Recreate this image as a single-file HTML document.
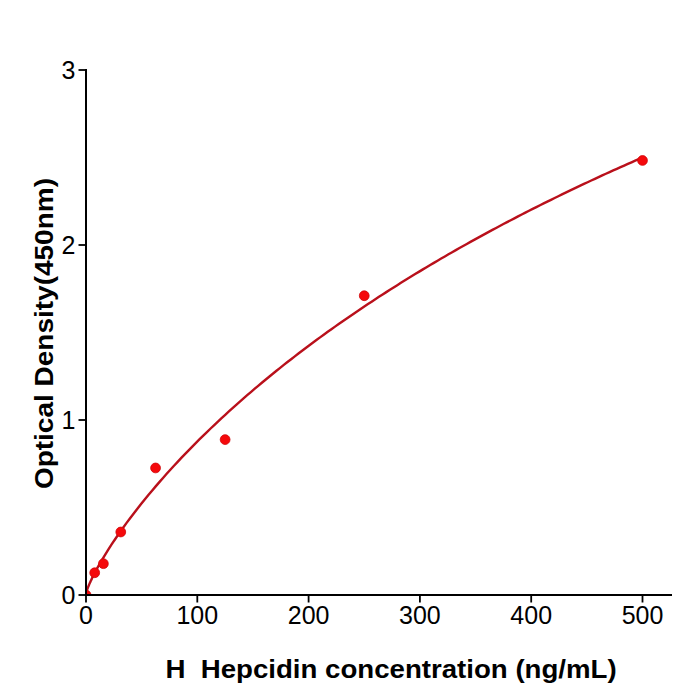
<!DOCTYPE html>
<html><head><meta charset="utf-8"><style>
html,body{margin:0;padding:0;background:#fff;}
svg{display:block;}
text{font-family:"Liberation Sans",sans-serif;}
</style></head><body>
<svg width="700" height="700" viewBox="0 0 700 700">
<rect width="700" height="700" fill="#fff"/>
<defs><clipPath id="ax"><rect x="86" y="0" width="614" height="595"/></clipPath></defs>
<g clip-path="url(#ax)">
<polyline points="86.00,593.54 86.38,591.96 86.77,590.74 87.15,589.63 87.54,588.58 87.92,587.58 88.30,586.62 88.69,585.68 89.07,584.77 89.45,583.88 89.84,583.01 90.22,582.15 90.61,581.31 90.99,580.48 91.37,579.67 91.76,578.86 92.14,578.07 92.52,577.28 92.91,576.50 93.29,575.74 93.68,574.97 94.06,574.22 94.44,573.48 94.83,572.74 95.21,572.00 95.59,571.28 95.98,570.56 96.36,569.84 96.75,569.13 97.13,568.43 100.79,561.93 104.45,555.77 108.11,549.88 111.77,544.21 115.43,538.72 119.09,533.40 122.75,528.22 126.41,523.17 130.07,518.23 133.73,513.41 137.39,508.69 141.05,504.06 144.71,499.51 148.37,495.05 152.03,490.67 155.69,486.35 159.35,482.11 163.01,477.93 166.67,473.82 170.33,469.76 173.99,465.76 177.65,461.82 181.31,457.93 184.97,454.09 188.64,450.30 192.30,446.56 195.96,442.86 199.62,439.20 203.28,435.59 206.94,432.02 210.60,428.50 214.26,425.01 217.92,421.55 221.58,418.14 225.24,414.76 228.90,411.42 232.56,408.11 236.22,404.83 239.88,401.58 243.54,398.37 247.20,395.19 250.86,392.04 254.52,388.92 258.18,385.82 261.84,382.76 265.50,379.72 269.16,376.71 272.82,373.73 276.48,370.77 280.14,367.84 283.80,364.93 287.46,362.05 291.12,359.19 294.78,356.36 298.44,353.55 302.10,350.76 305.76,347.99 309.42,345.25 313.08,342.52 316.74,339.82 320.40,337.14 324.06,334.48 327.72,331.84 331.38,329.22 335.04,326.62 338.70,324.04 342.36,321.48 346.02,318.94 349.68,316.41 353.34,313.90 357.00,311.42 360.66,308.94 364.32,306.49 367.98,304.05 371.65,301.63 375.31,299.23 378.97,296.84 382.63,294.47 386.29,292.12 389.95,289.78 393.61,287.45 397.27,285.14 400.93,282.85 404.59,280.57 408.25,278.31 411.91,276.06 415.57,273.82 419.23,271.60 422.89,269.39 426.55,267.20 430.21,265.02 433.87,262.85 437.53,260.70 441.19,258.56 444.85,256.44 448.51,254.32 452.17,252.22 455.83,250.13 459.49,248.05 463.15,245.99 466.81,243.94 470.47,241.90 474.13,239.87 477.79,237.85 481.45,235.85 485.11,233.86 488.77,231.87 492.43,229.90 496.09,227.94 499.75,225.99 503.41,224.06 507.07,222.13 510.73,220.21 514.39,218.31 518.05,216.41 521.71,214.52 525.37,212.65 529.03,210.78 532.69,208.93 536.35,207.08 540.01,205.25 543.67,203.42 547.33,201.61 550.99,199.80 554.66,198.00 558.32,196.21 561.98,194.43 565.64,192.66 569.30,190.90 572.96,189.15 576.62,187.41 580.28,185.68 583.94,183.95 587.60,182.23 591.26,180.53 594.92,178.83 598.58,177.14 602.24,175.45 605.90,173.78 609.56,172.11 613.22,170.45 616.88,168.80 620.54,167.16 624.20,165.53 627.86,163.90 631.52,162.28 635.18,160.67 638.84,159.07 642.50,157.47" fill="none" stroke="#b9101b" stroke-width="2.4" stroke-linejoin="round"/>
<g fill="#f5090b" stroke="#d0060a" stroke-width="0.8">
<circle cx="86.00" cy="595.00" r="4.9"/>
<circle cx="94.70" cy="572.77" r="4.9"/>
<circle cx="103.39" cy="563.67" r="4.9"/>
<circle cx="120.78" cy="532.00" r="4.9"/>
<circle cx="155.56" cy="467.95" r="4.9"/>
<circle cx="225.12" cy="439.60" r="4.9"/>
<circle cx="364.25" cy="295.75" r="4.9"/>
<circle cx="642.50" cy="160.47" r="4.9"/>
</g>
</g>
<g stroke="#000" stroke-width="2">
<line x1="86" y1="69" x2="86" y2="596"/>
<line x1="85" y1="595" x2="672" y2="595"/>
</g>
<g stroke="#000" stroke-width="1.8">
<line x1="86.00" y1="595" x2="86.00" y2="602.5"/>
<line x1="197.30" y1="595" x2="197.30" y2="602.5"/>
<line x1="308.60" y1="595" x2="308.60" y2="602.5"/>
<line x1="419.90" y1="595" x2="419.90" y2="602.5"/>
<line x1="531.20" y1="595" x2="531.20" y2="602.5"/>
<line x1="642.50" y1="595" x2="642.50" y2="602.5"/>
<line x1="78.5" y1="595.00" x2="86" y2="595.00"/>
<line x1="78.5" y1="420.00" x2="86" y2="420.00"/>
<line x1="78.5" y1="245.00" x2="86" y2="245.00"/>
<line x1="78.5" y1="70.00" x2="86" y2="70.00"/>
</g>
<g font-size="25" fill="#000">
<text x="86.00" y="623.5" text-anchor="middle">0</text>
<text x="197.30" y="623.5" text-anchor="middle">100</text>
<text x="308.60" y="623.5" text-anchor="middle">200</text>
<text x="419.90" y="623.5" text-anchor="middle">300</text>
<text x="531.20" y="623.5" text-anchor="middle">400</text>
<text x="642.50" y="623.5" text-anchor="middle">500</text>
<text x="75.5" y="604.00" text-anchor="end">0</text>
<text x="75.5" y="429.00" text-anchor="end">1</text>
<text x="75.5" y="254.00" text-anchor="end">2</text>
<text x="75.5" y="79.00" text-anchor="end">3</text>
</g>
<text x="165.4" y="677.5" font-size="25" font-weight="bold" textLength="20" lengthAdjust="spacingAndGlyphs">H</text>
<text x="200.7" y="677.5" font-size="25" font-weight="bold" textLength="416" lengthAdjust="spacingAndGlyphs">Hepcidin concentration (ng/mL)</text>
<text transform="translate(52.5,489.1) rotate(-90)" font-size="25" font-weight="bold" textLength="311.1" lengthAdjust="spacingAndGlyphs">Optical Density(450nm)</text>
</svg>
</body></html>
